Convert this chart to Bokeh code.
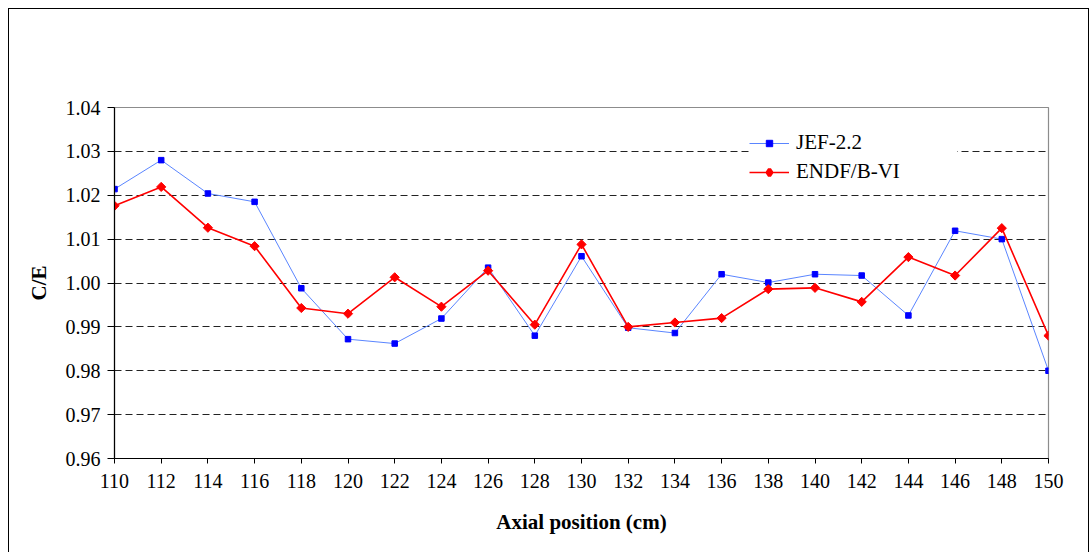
from bokeh.plotting import figure
from bokeh.models import (Range1d, FixedTicker, NumeralTickFormatter, Legend, LegendItem)
from bokeh.embed import file_html
from bokeh.resources import INLINE
import numpy as np

# ---- data ----
positions = [110, 112, 114, 116, 118, 120, 122, 124, 126, 128, 130,
             132, 134, 136, 138, 140, 142, 144, 146, 148, 150]
jef22 = [1.0214, 1.0280, 1.0204, 1.0185, 0.9988, 0.9872, 0.9862, 0.9919, 1.0035, 0.9880, 1.0061,
         0.9898, 0.9886, 1.0020, 1.0001, 1.0020, 1.0017, 0.9926, 1.0119, 1.0100, 0.9800]
endfb6 = [1.0176, 1.0219, 1.0126, 1.0084, 0.9943, 0.9930, 1.0013, 0.9946, 1.0028, 0.9905, 1.0088,
          0.9900, 0.9910, 0.9920, 0.9986, 0.9989, 0.9957, 1.0059, 1.0017, 1.0125, 0.9880]
y_ticks = [0.96, 0.97, 0.98, 0.99, 1.00, 1.01, 1.02, 1.03, 1.04]
grid_ticks = [0.97, 0.98, 0.99, 1.00, 1.01, 1.02, 1.03]
x_ticks = positions
series_names = ["JEF-2.2", "ENDF/B-VI"]
x_title = "Axial position (cm)"
y_title = "C/E"

FONT = "Liberation Serif"

p = figure(width=1081, height=544, output_backend="svg", toolbar_location=None,
           x_range=Range1d(110, 150), y_range=Range1d(0.96, 1.04),
           min_border_left=105, min_border_right=42, min_border_top=98, min_border_bottom=95)
p.styles = {"margin-left": "8px", "margin-top": "8px",
            "border-left": "1px solid #000", "border-top": "1px solid #000",
            "border-right": "1px solid #000"}
p.background_fill_color = "white"
p.border_fill_color = "white"
p.outline_line_color = "#8c8c8c"
p.outline_line_width = 1.2

# axes
for ax in (p.xaxis[0], p.yaxis[0]):
    ax.axis_line_color = "#000"
    ax.axis_line_width = 1.2
    ax.major_tick_line_color = "#000"
    ax.major_tick_line_width = 1
    ax.minor_tick_line_color = None
    ax.major_tick_in = 0
    ax.major_label_text_font = FONT
    ax.major_label_text_font_size = "20px"
    ax.major_label_text_color = "#000"
    ax.axis_label_text_font = FONT
    ax.axis_label_text_font_style = "bold"
    ax.axis_label_text_font_size = "21px"
    ax.axis_label_text_color = "#000"

p.xaxis.ticker = FixedTicker(ticks=x_ticks)
p.xaxis.major_tick_out = 5
p.xaxis.major_label_standoff = 10
p.xaxis.axis_label = x_title
p.xaxis.axis_label_standoff = 19

p.yaxis.ticker = FixedTicker(ticks=y_ticks)
p.yaxis.formatter = NumeralTickFormatter(format="0.00")
p.yaxis.major_tick_out = 7
p.yaxis.major_label_standoff = 7
p.yaxis.axis_label = y_title
p.yaxis.axis_label_standoff = 12

p.xgrid.visible = False
p.ygrid.ticker = FixedTicker(ticks=grid_ticks)
p.ygrid.grid_line_color = "#222"
p.ygrid.grid_line_dash = "7 4"
p.ygrid.grid_line_width = 1

# series
l1 = p.line(positions, jef22, line_color="#5a85ff", line_width=1)
s1 = p.scatter(positions, jef22, marker="square", size=5.5, fill_color="#0000ff",
               line_color="#0000ff")
l2 = p.line(positions, endfb6, line_color="#ff0000", line_width=1.6)
s2 = p.scatter(positions, endfb6, marker="square", angle=np.pi / 4, size=6.5,
               fill_color="#ff0000", line_color="#ff0000")
# legend-only diamond glyph (no data points drawn)
s2_leg = p.scatter([np.nan], [np.nan], marker="diamond", size=10,
                   fill_color="#ff0000", line_color="#ff0000", line_width=3.5)

legend = Legend(items=[LegendItem(label=series_names[0], renderers=[l1, s1]),
                       LegendItem(label=series_names[1], renderers=[l2, s2_leg])],
                location=(635, 274), orientation="vertical",
                background_fill_color="white", background_fill_alpha=1,
                border_line_color=None, padding=8, spacing=4,
                glyph_width=40, glyph_height=16, label_height=22, label_width=161,
                label_standoff=7, label_text_font=FONT, label_text_font_size="21px",
                label_text_color="#000", margin=0)
p.add_layout(legend)

open("out.html", "w").write(file_html(p, INLINE))
